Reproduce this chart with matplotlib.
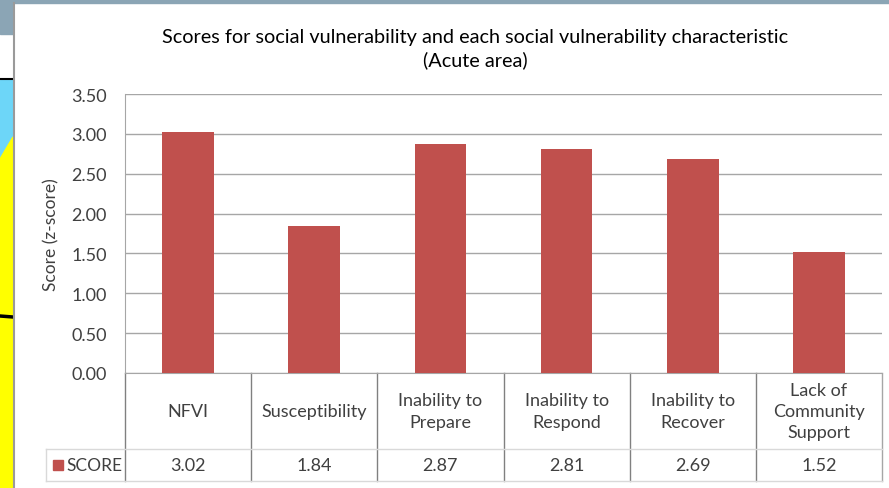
import matplotlib.pyplot as plt
from matplotlib.patches import Rectangle, Polygon
from matplotlib.lines import Line2D

categories = ["NFVI", "Susceptibility", "Inability to\nPrepare", "Inability to\nRespond",
              "Inability to\nRecover", "Lack of\nCommunity\nSupport"]
scores = [3.02, 1.84, 2.87, 2.81, 2.69, 1.52]
value_labels = ["3.02", "1.84", "2.87", "2.81", "2.69", "1.52"]
yticks = [0.0, 0.5, 1.0, 1.5, 2.0, 2.5, 3.0, 3.5]

bar_color = "#C0504D"
grid_color = "#A6A6A6"
text_color = "#404040"

plt.rcParams['font.family'] = ['Lato', 'DejaVu Sans']

W, H = 889, 489
fig = plt.figure(figsize=(W / 100, H / 100), dpi=100)


def fx(px):
    return px / W


def fy(py):
    return 1 - py / H


# slide background pieces visible around the chart frame
fig.patches.append(Rectangle((0, 0), 1, 1, transform=fig.transFigure, color="white", zorder=-10))
fig.patches.append(Rectangle((0, fy(35)), fx(13), fy(0) - fy(35), transform=fig.transFigure,
                             color="#8BA5B5", zorder=-5))
fig.patches.append(Rectangle((0, fy(4)), 1, fy(0) - fy(4), transform=fig.transFigure,
                             color="#8BA5B5", zorder=-5))
fig.patches.append(Rectangle((0, 0), fx(13), fy(81), transform=fig.transFigure,
                             color="#6DD6F8", zorder=-5))
fig.patches.append(Polygon([(0, fy(160)), (fx(13), fy(138)), (fx(13), 0), (0, 0)],
                           closed=True, transform=fig.transFigure, color="#FFFF00", zorder=-4))
fig.lines.append(Line2D([0, fx(13)], [fy(80), fy(80)], transform=fig.transFigure,
                        color="black", lw=1.5))
fig.lines.append(Line2D([0, fx(13)], [fy(317), fy(318)], transform=fig.transFigure,
                        color="black", lw=2.5))
fig.lines.append(Line2D([fx(13.5), fx(13.5)], [fy(4), 0], transform=fig.transFigure,
                        color="#9A9A9A", lw=1.5))

ax_left, ax_right, ax_top, ax_bottom = 125, 882, 95, 374
ax = fig.add_axes([fx(ax_left), fy(ax_bottom), fx(ax_right - ax_left), fy(ax_top) - fy(ax_bottom)])

x = [i + 0.5 for i in range(len(categories))]
ax.bar(x, scores, width=0.41, color=bar_color, zorder=3)

ax.set_xlim(0, len(categories))
ax.set_ylim(0, 3.5)
ax.set_yticks(yticks)
ax.set_yticklabels([f"{v:.2f}" for v in yticks], fontsize=13, color=text_color)
ax.set_xticks([])
ax.tick_params(axis='y', length=0, pad=13)
ax.grid(axis='y', color=grid_color, lw=1, zorder=0)
for s in ['top', 'right']:
    ax.spines[s].set_visible(False)
ax.spines['left'].set_color(grid_color)
ax.spines['bottom'].set_color(grid_color)
ax.set_ylabel("Score (z-score)", fontsize=12.5, color=text_color)
ax.yaxis.set_label_coords(-0.086, 0.5)

# data table under the plot
px_per_axes = ax_bottom - ax_top
row1 = -(450 - ax_bottom) / px_per_axes
row2 = -(482 - ax_bottom) / px_per_axes
legend_left = (46 - ax_left) / ((ax_right - ax_left) / len(categories))
tr = ax.get_xaxis_transform()
n = len(categories)
for i in range(n + 1):
    ax.plot([i, i], [0, row2], transform=tr, color="#808080" if i < n else "#A6A6A6",
            lw=1, clip_on=False)
ax.plot([legend_left, n], [row1, row1], transform=tr, color="#D9D9D9", lw=1, clip_on=False)
ax.plot([legend_left, n], [row2, row2], transform=tr, color="#D9D9D9", lw=1, clip_on=False)
ax.plot([legend_left, legend_left], [row1, row2], transform=tr, color="#D9D9D9", lw=1, clip_on=False)

for xi, cat, val in zip(x, categories, value_labels):
    ax.text(xi, row1 / 2, cat, transform=tr, ha='center', va='center', fontsize=13,
            color=text_color, linespacing=1.4)
    ax.text(xi, (row1 + row2) / 2, val, transform=tr, ha='center', va='center', fontsize=13,
            color=text_color)

key_x = (58 - ax_left) / ((ax_right - ax_left) / n)
ax.plot([key_x], [(row1 + row2) / 2], transform=tr, marker='s', ms=6.5, color=bar_color,
        clip_on=False)
ax.text(key_x + 0.063, (row1 + row2) / 2, "SCORE", transform=tr, ha='left', va='center',
        fontsize=12.5, color=text_color)

fig.text(fx(475), fy(49), "Scores for social vulnerability and each social vulnerability characteristic\n(Acute area)",
         ha='center', va='center', fontsize=14.3, color="black", linespacing=1.35)

fig.savefig("out.png", dpi=100)
